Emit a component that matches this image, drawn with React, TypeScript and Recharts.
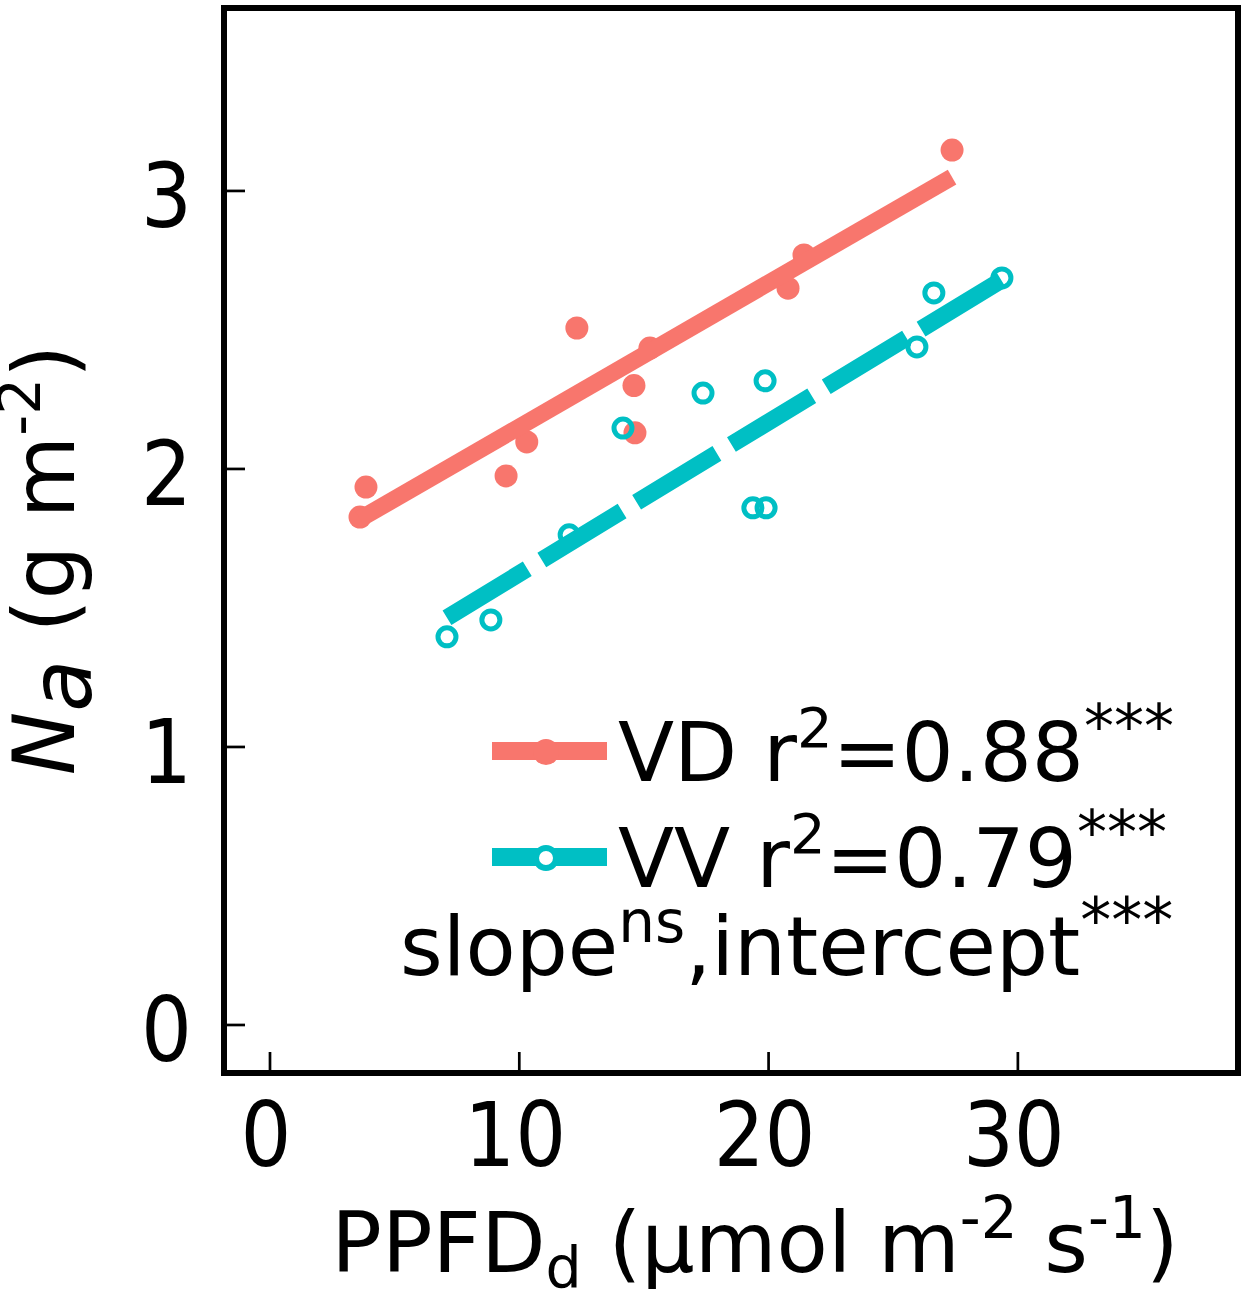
import {
  ComposedChart,
  Scatter,
  XAxis,
  YAxis,
  ReferenceArea,
} from "recharts";

// PPFDd vs Na, two light regimes
const vdX = [3.85, 3.61, 9.47, 10.3, 12.31, 14.6, 14.64, 15.24, 20.78, 21.42, 27.36];
const vdY = [1.935, 1.827, 1.975, 2.097, 2.507, 2.3, 2.13, 2.435, 2.65, 2.77, 3.147];
const vvX = [7.1, 8.86, 12.0, 14.16, 17.37, 19.37, 19.9, 19.86, 25.95, 26.63, 29.36];
const vvY = [1.396, 1.457, 1.763, 2.147, 2.273, 1.86, 1.86, 2.317, 2.439, 2.633, 2.687];

// regression line ends
const vdFitX = [3.61, 27.36];
const vdFitY = [1.82, 3.05];
const vvFitX = [7.1, 29.36];
const vvFitY = [1.465, 2.68];

const xTicks = [0, 10, 20, 30];
const yTicks = [0, 1, 2, 3];
const xDomain = [-1.845, 38.83];
const yDomain = [-0.1727, 3.658];

const seriesNames = ["VD", "VV"];
const r2Labels = ["0.88", "0.79"];
const colors = ["#F8766D", "#00BFC4"];

const FONT = "DejaVu Sans, Verdana, sans-serif";
const TICK_FONT = "DejaVu Sans Condensed, DejaVu Sans, sans-serif";

const toPoints = (xs: number[], ys: number[]) => xs.map((x, i) => ({ x, y: ys[i] }));

const vdData = toPoints(vdX, vdY);
const vvData = toPoints(vvX, vvY);
const vdFit = toPoints(vdFitX, vdFitY);
const vvFit = toPoints(vvFitX, vvFitY);

function YTick({ x, y, payload }: any) {
  return (
    <g>
      <line x1={x} y1={y} x2={x + 21} y2={y} stroke="#000" strokeWidth={2.7} />
      <text x={x - 32} y={y + 36} textAnchor="end" fontSize={89} fontFamily={TICK_FONT} fill="#000">
        {payload.value}
      </text>
    </g>
  );
}

function XTick({ x, y, payload }: any) {
  return (
    <g>
      <line x1={x} y1={y} x2={x} y2={y - 21} stroke="#000" strokeWidth={2.7} />
      <text x={x - 4} y={y + 93} textAnchor="middle" fontSize={89} fontFamily={TICK_FONT} fill="#000">
        {payload.value}
      </text>
    </g>
  );
}

function XTitle() {
  return (
    <text x={755} y={1272} textAnchor="middle" fontSize={84} fontFamily={FONT} fill="#000">
      PPFD
      <tspan fontSize={57} dy={15}>d</tspan>
      <tspan dy={-15}> (μmol m</tspan>
      <tspan fontSize={58} dy={-34}>-2</tspan>
      <tspan dy={34}> s</tspan>
      <tspan fontSize={58} dy={-34}>-1</tspan>
      <tspan dy={34}>)</tspan>
    </text>
  );
}

function YTitle() {
  return (
    <text
      transform="translate(74,560) rotate(-90)"
      textAnchor="middle"
      fontSize={85}
      fontFamily={FONT}
      fill="#000"
    >
      <tspan fontStyle="italic">N</tspan>
      <tspan fontStyle="italic" dy={17}>a</tspan>
      <tspan dy={-17}> (g m</tspan>
      <tspan fontSize={58} dy={-34}>-2</tspan>
      <tspan dy={34}>)</tspan>
    </text>
  );
}

const filledDot = (props: any) => (
  <circle cx={props.cx} cy={props.cy} r={11.5} fill={colors[0]} />
);
const openDot = (props: any) => (
  <circle cx={props.cx} cy={props.cy} r={9} fill="none" stroke={colors[1]} strokeWidth={5} />
);
const noDot = () => <g />;

function LegendOverlay() {
  const rows = [751, 857];
  return (
    <svg
      width={1242}
      height={1291}
      style={{ position: "absolute", left: 0, top: 0, pointerEvents: "none" }}
    >
      {seriesNames.map((name, i) => (
        <g key={name}>
          <line x1={492} x2={607} y1={rows[i]} y2={rows[i]} stroke={colors[i]} strokeWidth={18} />
          {i === 0 ? (
            <circle cx={546} cy={rows[i] + 1} r={13} fill={colors[i]} />
          ) : (
            <circle cx={546} cy={rows[i] + 1} r={10} fill="#fff" stroke={colors[i]} strokeWidth={6} />
          )}
          <text x={618} y={rows[i] + 30} fontSize={82} fontFamily={FONT} fill="#000">
            {name} r
            <tspan fontSize={56} dy={-34}>2</tspan>
            <tspan dy={34}>={r2Labels[i]}</tspan>
            <tspan fontSize={60} dy={-34}>***</tspan>
          </text>
        </g>
      ))}
      <text x={400} y={975} fontSize={82} fontFamily={FONT} fill="#000">
        slope
        <tspan fontSize={58} dy={-33}>ns</tspan>
        <tspan dy={33}>,intercept</tspan>
        <tspan fontSize={62} dy={-33}>***</tspan>
      </text>
    </svg>
  );
}

export default function App() {
  return (
    <div style={{ position: "absolute", left: 0, top: 0, width: 1242, height: 1291, background: "#fff" }}>
      <ComposedChart
        width={1242}
        height={1291}
        margin={{ top: 8, right: 4, bottom: 0, left: 0 }}
      >
        <XAxis
          type="number"
          dataKey="x"
          domain={xDomain}
          ticks={xTicks}
          allowDataOverflow
          height={218}
          tickSize={0}
          tickMargin={0}
          tickLine={false}
          axisLine={false}
          tick={<XTick />}
          label={{ content: () => <XTitle /> }}
        />
        <YAxis
          type="number"
          dataKey="y"
          domain={yDomain}
          ticks={yTicks}
          allowDataOverflow
          width={224}
          tickSize={0}
          tickMargin={0}
          tickLine={false}
          axisLine={false}
          tick={<YTick />}
          label={{ content: () => <YTitle /> }}
        />
        <Scatter name="VD" data={vdData} shape={filledDot} isAnimationActive={false} />
        <Scatter name="VV" data={vvData} shape={openDot} isAnimationActive={false} />
        <Scatter
          name="VD fit"
          data={vdFit}
          shape={noDot}
          line={{ stroke: colors[0], strokeWidth: 17 }}
          isAnimationActive={false}
        />
        <Scatter
          name="VV fit"
          data={vvFit}
          shape={noDot}
          line={{ stroke: colors[1], strokeWidth: 17, strokeDasharray: "94 17" }}
          isAnimationActive={false}
        />
        <ReferenceArea
          x1={xDomain[0]}
          x2={xDomain[1]}
          y1={yDomain[0]}
          y2={yDomain[1]}
          fill="none"
          stroke="#000"
          strokeWidth={6}
          ifOverflow="visible"
        />
      </ComposedChart>
      <LegendOverlay />
    </div>
  );
}
